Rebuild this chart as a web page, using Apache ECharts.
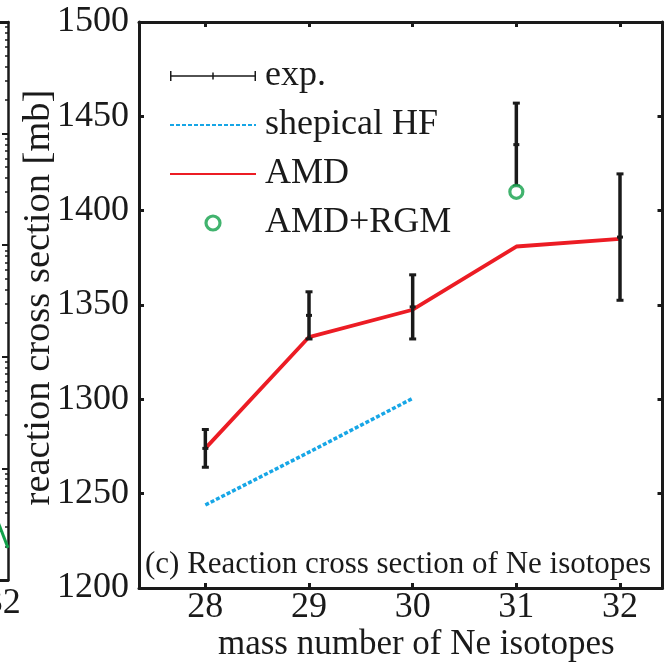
<!DOCTYPE html>
<html>
<head>
<meta charset="utf-8">
<script src="https://cdn.jsdelivr.net/npm/echarts@6/dist/echarts.min.js"></script>
<style>html,body{margin:0;padding:0;background:#fff}#c{width:671px;height:667px}</style>
</head>
<body>
<div id="c"></div>
<script>
// ---- data ----
const massNumbers = [28, 29, 30, 31, 32];
const expValues = [1274, 1344.5, 1349, 1435, 1386];
const expErrors = [10, 12.5, 17, 22, 33.5];
const hfMass = [28, 29, 30];
const hfValues = [1244, 1272, 1300.5];
const amdValues = [1274, 1333, 1347.5, 1381, 1385];
const rgmMass = [31];
const rgmValues = [1410];
const xTickValues = [28, 29, 30, 31, 32];
// neighbouring (cropped) panel on the left
const leftPanelX = [31.5, 32.05];
const leftPanelY = [41, 1.94];
const leftMajorTicks = [1, 10, 100, 1000, 10000, 100000];
const leftMinorTicks = [2,3,4,5,6,7,8,9, 20,30,40,50,60,70,80,90, 200,300,400,500,600,700,800,900,
  2000,3000,4000,5000,6000,7000,8000,9000, 20000,30000,40000,50000,60000,70000,80000,90000];
const leftXLabel = [32];

const FONT = 'Liberation Serif, "DejaVu Serif", serif';
const INK = '#1a1a1a';
const RED = '#ec1c24';
const BLUE = '#17a6e6';
const GREEN = '#12a04a';

const chart = echarts.init(document.getElementById('c'), null, {renderer: 'canvas'});

const axisLine = {show: true, onZero: false, lineStyle: {color: INK, width: 3}};
const tick = {show: true, inside: true, length: 5, lineStyle: {color: INK, width: 3}};
const plain = v => String(v);

const option = {
  backgroundColor: '#fff',
  animation: false,
  title: {
    text: '(c) Reaction cross section of Ne isotopes',
    left: 145, top: 549, padding: 0,
    textStyle: {fontFamily: FONT, fontSize: 31, fontWeight: 'normal', color: INK, lineHeight: 31}
  },
  legend: {
    orient: 'vertical', left: 169, top: 58, padding: 0,
    itemWidth: 86, itemHeight: 14, itemGap: 13,
    selectedMode: false,
    textStyle: {fontFamily: FONT, fontSize: 36, color: INK, lineHeight: 36, padding: [0, 0, 0, 4]},
    data: [
      {name: 'exp.', icon: 'path://M0,0h1.5v10h-1.5z M0,4.25h86v1.5h-86z M42.25,1.5h1.5v7h-1.5z M84.5,0h1.5v10h-1.5z'},
      {name: 'shepical HF', itemStyle: {opacity: 0}},
      {name: 'AMD', itemStyle: {opacity: 0}},
      {name: 'AMD+RGM', itemStyle: {color: '#fff', borderColor: GREEN, borderWidth: 3.2}}
    ]
  },
  grid: [
    {left: 139, top: 22, right: 8.5, bottom: 79, outerBoundsMode: 'none', containLabel: false},
    {left: -517, top: 22, right: 663, bottom: 87, outerBoundsMode: 'none', containLabel: false}
  ],
  xAxis: [
    {
      type: 'value', gridIndex: 0, position: 'bottom', min: 27.36, max: 32.41,
      axisLine: axisLine,
      axisTick: Object.assign({customValues: xTickValues}, tick),
      axisLabel: {customValues: xTickValues, formatter: plain, fontFamily: FONT, fontSize: 36, color: INK, margin: 2},
      splitLine: {show: false},
      name: 'mass number of Ne isotopes', nameLocation: 'middle', nameGap: 39, nameMoveOverlap: false,
      nameTextStyle: {fontFamily: FONT, fontSize: 35, color: INK, padding: [0, 0, 0, 31]}
    },
    {
      type: 'value', gridIndex: 0, position: 'top', min: 27.36, max: 32.41,
      axisLine: axisLine,
      axisTick: Object.assign({customValues: xTickValues}, tick),
      axisLabel: {show: false}, splitLine: {show: false}
    },
    {
      type: 'value', gridIndex: 1, position: 'bottom', min: 27, max: 32.05,
      axisLine: axisLine, axisTick: {show: false},
      axisLabel: {customValues: leftXLabel, formatter: plain, fontFamily: FONT, fontSize: 36, color: INK, margin: 6},
      splitLine: {show: false}
    },
    {
      type: 'value', gridIndex: 1, position: 'top', min: 27, max: 32.05,
      axisLine: axisLine, axisTick: {show: false}, axisLabel: {show: false}, splitLine: {show: false}
    }
  ],
  yAxis: [
    {
      type: 'value', gridIndex: 0, position: 'left', min: 1200, max: 1500, interval: 50,
      axisLine: axisLine, axisTick: tick,
      axisLabel: {formatter: plain, fontFamily: FONT, fontSize: 36, color: INK, margin: 10},
      splitLine: {show: false},
      name: 'reaction cross section [mb]', nameLocation: 'middle', nameGap: 81, nameMoveOverlap: false,
      nameTextStyle: {fontFamily: FONT, fontSize: 38.5, color: INK, padding: [0, 0, 0, 15]}
    },
    {
      type: 'value', gridIndex: 0, position: 'right', min: 1200, max: 1500, interval: 50,
      axisLine: axisLine, axisTick: tick, axisLabel: {show: false}, splitLine: {show: false}
    },
    {
      type: 'log', logBase: 10, gridIndex: 1, position: 'right', min: 1, max: 100000,
      axisLine: {show: true, lineStyle: {color: INK, width: 2.5}},
      axisTick: {show: true, inside: true, length: 6, customValues: leftMajorTicks, lineStyle: {color: INK, width: 2}},
      axisLabel: {show: false}, splitLine: {show: false}
    },
    {
      type: 'log', logBase: 10, gridIndex: 1, position: 'right', min: 1, max: 100000,
      axisLine: {show: false},
      axisTick: {show: true, inside: true, length: 3, customValues: leftMinorTicks, lineStyle: {color: INK, width: 1.5}},
      axisLabel: {show: false}, splitLine: {show: false}
    }
  ],
  series: [
    {
      name: 'shepical HF', type: 'line', xAxisIndex: 0, yAxisIndex: 0, z: 2,
      data: hfMass.map((m, i) => [m, hfValues[i]]),
      showSymbol: false, symbol: 'none',
      itemStyle: {color: BLUE},
      lineStyle: {color: BLUE, width: 3.5, type: [4, 2]}
    },
    {
      name: 'AMD', type: 'line', xAxisIndex: 0, yAxisIndex: 0, z: 2,
      data: massNumbers.map((m, i) => [m, amdValues[i]]),
      showSymbol: false, symbol: 'none',
      itemStyle: {color: RED},
      lineStyle: {color: RED, width: 3.8}
    },
    {
      name: 'exp.', type: 'custom', xAxisIndex: 0, yAxisIndex: 0, z: 3,
      itemStyle: {color: INK},
      encode: {x: 0, y: [1, 2, 3]},
      data: massNumbers.map((m, i) => [m, expValues[i], expValues[i] - expErrors[i], expValues[i] + expErrors[i]]),
      renderItem: function (params, api) {
        const x = api.value(0);
        const pc = api.coord([x, api.value(1)]);
        const pb = api.coord([x, api.value(2)]);
        const pt = api.coord([x, api.value(3)]);
        const cap = 3.5;
        const s = {stroke: INK, lineWidth: 3.5};
        const s2 = {stroke: INK, lineWidth: 3};
        return {
          type: 'group',
          children: [
            {type: 'line', shape: {x1: pt[0], y1: pt[1], x2: pb[0], y2: pb[1]}, style: s},
            {type: 'line', shape: {x1: pt[0] - cap, y1: pt[1], x2: pt[0] + cap, y2: pt[1]}, style: s2},
            {type: 'line', shape: {x1: pb[0] - cap, y1: pb[1], x2: pb[0] + cap, y2: pb[1]}, style: s2},
            {type: 'line', shape: {x1: pc[0] - 3, y1: pc[1], x2: pc[0] + 3, y2: pc[1]}, style: s2}
          ]
        };
      }
    },
    {
      name: 'AMD+RGM', type: 'scatter', xAxisIndex: 0, yAxisIndex: 0, z: 4,
      data: rgmMass.map((m, i) => [m, rgmValues[i]]),
      symbol: 'circle', symbolSize: 13,
      itemStyle: {color: '#fff', borderColor: GREEN, borderWidth: 3.2}
    },
    {
      name: 'left panel', type: 'line', xAxisIndex: 2, yAxisIndex: 2, z: 2,
      data: leftPanelX.map((x, i) => [x, leftPanelY[i]]),
      showSymbol: false, symbol: 'none',
      lineStyle: {color: GREEN, width: 3}
    }
  ]
};
chart.setOption(option);
</script>
</body>
</html>
